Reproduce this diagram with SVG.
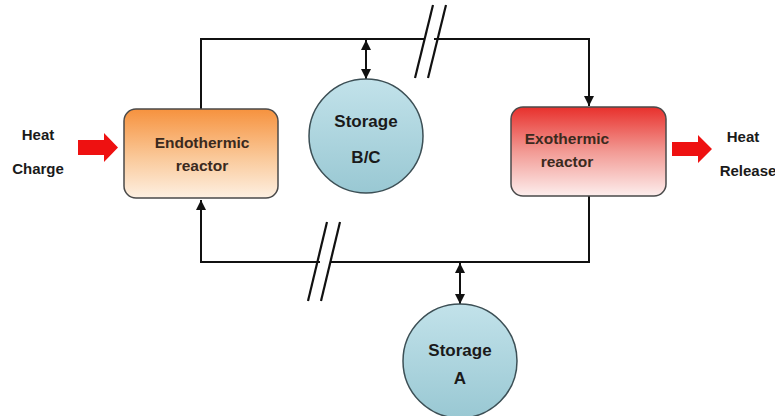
<svg xmlns="http://www.w3.org/2000/svg" width="775" height="416" viewBox="0 0 775 416">
  <style>
    .lbl { font-family: "Liberation Sans", Arial, sans-serif; font-weight: bold; fill: #1a1a1a; text-anchor: middle; }
    .rx { font-family: "Liberation Sans", Arial, sans-serif; font-weight: bold; fill: #3b2a1e; text-anchor: middle; font-size: 15.5px; }
    .wire { fill: none; stroke: #111; stroke-width: 2; }
    .brk { stroke: #111; stroke-width: 2.2; }
    .box { stroke: #4a4a4a; stroke-width: 1.5; }
    .tank { fill: url(#tankFill); stroke: #3c4f55; stroke-width: 1.5; }
    .heat { fill: #ee1111; }
  </style>
  <defs>
    <linearGradient id="endoFill" x1="0" y1="0" x2="0" y2="1">
      <stop offset="0" stop-color="#f6923e"/>
      <stop offset="0.55" stop-color="#fac99a"/>
      <stop offset="1" stop-color="#fdf0e2"/>
    </linearGradient>
    <linearGradient id="exoFill" x1="0" y1="0" x2="0" y2="1">
      <stop offset="0" stop-color="#e8302c"/>
      <stop offset="0.5" stop-color="#f29a94"/>
      <stop offset="1" stop-color="#fdeeed"/>
    </linearGradient>
    <linearGradient id="tankFill" x1="0" y1="0" x2="0" y2="1">
      <stop offset="0" stop-color="#c2e2ea"/>
      <stop offset="1" stop-color="#99c8d3"/>
    </linearGradient>
    <marker id="tip" viewBox="0 0 10 10" refX="10" refY="5" markerWidth="5" markerHeight="5" orient="auto-start-reverse" markerUnits="strokeWidth">
      <path d="M0,0 L10,5 L0,10 z" fill="#111"/>
    </marker>
  </defs>

  <!-- loop piping and storage links -->
  <g id="connectors">
    <path class="wire" d="M201,109 V39 H424"/>
    <path class="wire" d="M434,39 H589 V106" marker-end="url(#tip)"/>
    <path class="wire" d="M589,196 V262 H330"/>
    <path class="wire" d="M320,262 H201 V200" marker-end="url(#tip)"/>
    <line class="wire" x1="366" y1="40" x2="366" y2="79" marker-start="url(#tip)" marker-end="url(#tip)"/>
    <line class="wire" x1="460" y1="263" x2="460" y2="304" marker-start="url(#tip)" marker-end="url(#tip)"/>
    <!-- line break marks -->
    <line class="brk" x1="415" y1="78" x2="433" y2="5"/>
    <line class="brk" x1="428" y1="78" x2="446" y2="5"/>
    <line class="brk" x1="308" y1="301" x2="327" y2="222"/>
    <line class="brk" x1="321" y1="301" x2="340" y2="222"/>
  </g>

  <g id="heat-charge">
    <text class="lbl" x="38" y="140" font-size="15">Heat</text>
    <text class="lbl" x="38" y="174" font-size="15">Charge</text>
    <path class="heat" d="M78,140 H104 V133 L118,147.5 L104,162 V155 H78 z"/>
  </g>

  <g id="endothermic-reactor">
    <rect class="box" x="124" y="109" width="154" height="89" rx="12" fill="url(#endoFill)"/>
    <text class="rx" x="202" y="148">Endothermic</text>
    <text class="rx" x="202" y="171">reactor</text>
  </g>

  <g id="storage-bc">
    <circle class="tank" cx="366" cy="136" r="57"/>
    <text class="lbl" x="366" y="127" font-size="17">Storage</text>
    <text class="lbl" x="366" y="163" font-size="17">B/C</text>
  </g>

  <g id="exothermic-reactor">
    <rect class="box" x="511" y="107" width="155" height="89" rx="12" fill="url(#exoFill)"/>
    <text class="rx" x="567" y="144">Exothermic</text>
    <text class="rx" x="567" y="167">reactor</text>
  </g>

  <g id="heat-release">
    <path class="heat" d="M672,142 H698 V135 L712,149 L698,163 V156 H672 z"/>
    <text class="lbl" x="743" y="142" font-size="15">Heat</text>
    <text class="lbl" x="748" y="176" font-size="15">Release</text>
  </g>

  <g id="storage-a">
    <circle class="tank" cx="460" cy="361" r="57"/>
    <text class="lbl" x="460" y="356" font-size="17">Storage</text>
    <text class="lbl" x="460" y="384" font-size="17">A</text>
  </g>
</svg>
